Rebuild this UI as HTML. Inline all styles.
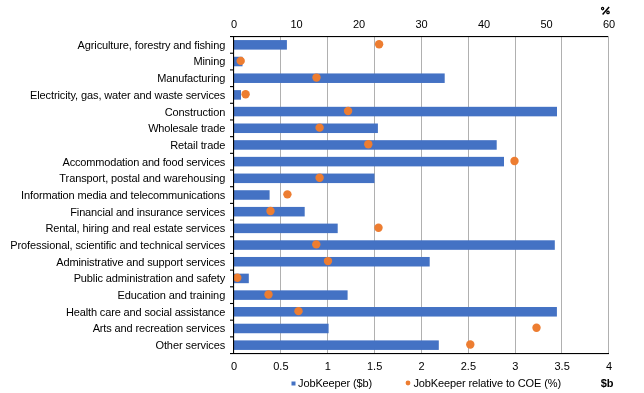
<!DOCTYPE html>
<html><head><meta charset="utf-8"><style>
html,body{margin:0;padding:0;background:#fff;width:644px;height:393px;overflow:hidden}
svg{display:block;will-change:transform}
text{font-family:"Liberation Sans",sans-serif;font-size:11px;letter-spacing:-0.12px;fill:#000}
text.n{letter-spacing:0}
</style></head><body>
<svg width="644" height="393" viewBox="0 0 644 393">
<rect width="644" height="393" fill="#fff"/>
<rect x="280" y="36" width="1" height="317.5" fill="#B0B0B0"/>
<rect x="327" y="36" width="1" height="317.5" fill="#B0B0B0"/>
<rect x="374" y="36" width="1" height="317.5" fill="#B0B0B0"/>
<rect x="421" y="36" width="1" height="317.5" fill="#B0B0B0"/>
<rect x="468" y="36" width="1" height="317.5" fill="#B0B0B0"/>
<rect x="515" y="36" width="1" height="317.5" fill="#B0B0B0"/>
<rect x="561" y="36" width="1" height="317.5" fill="#B0B0B0"/>
<rect x="608" y="36" width="1" height="317.5" fill="#B0B0B0"/>
<rect x="234" y="40.08" width="52.90" height="9.53" fill="#4472C4"/>
<rect x="234" y="56.76" width="8.50" height="9.53" fill="#4472C4"/>
<rect x="234" y="73.44" width="210.70" height="9.53" fill="#4472C4"/>
<rect x="234" y="90.13" width="7.00" height="9.53" fill="#4472C4"/>
<rect x="234" y="106.81" width="323.00" height="9.53" fill="#4472C4"/>
<rect x="234" y="123.50" width="143.90" height="9.53" fill="#4472C4"/>
<rect x="234" y="140.18" width="262.70" height="9.53" fill="#4472C4"/>
<rect x="234" y="156.86" width="270.00" height="9.53" fill="#4472C4"/>
<rect x="234" y="173.55" width="140.50" height="9.53" fill="#4472C4"/>
<rect x="234" y="190.23" width="35.60" height="9.53" fill="#4472C4"/>
<rect x="234" y="206.92" width="70.70" height="9.53" fill="#4472C4"/>
<rect x="234" y="223.60" width="103.70" height="9.53" fill="#4472C4"/>
<rect x="234" y="240.29" width="320.80" height="9.53" fill="#4472C4"/>
<rect x="234" y="256.97" width="195.70" height="9.53" fill="#4472C4"/>
<rect x="234" y="273.65" width="14.80" height="9.53" fill="#4472C4"/>
<rect x="234" y="290.34" width="113.60" height="9.53" fill="#4472C4"/>
<rect x="234" y="307.02" width="322.90" height="9.53" fill="#4472C4"/>
<rect x="234" y="323.71" width="94.60" height="9.53" fill="#4472C4"/>
<rect x="234" y="340.39" width="204.80" height="9.53" fill="#4472C4"/>
<circle cx="379.1" cy="44.22" r="4.2" fill="#ED7D31"/>
<circle cx="240.7" cy="60.90" r="4.2" fill="#ED7D31"/>
<circle cx="316.5" cy="77.58" r="4.2" fill="#ED7D31"/>
<circle cx="245.6" cy="94.27" r="4.2" fill="#ED7D31"/>
<circle cx="348.1" cy="110.95" r="4.2" fill="#ED7D31"/>
<circle cx="319.6" cy="127.63" r="4.2" fill="#ED7D31"/>
<circle cx="368.3" cy="144.31" r="4.2" fill="#ED7D31"/>
<circle cx="514.5" cy="160.99" r="4.2" fill="#ED7D31"/>
<circle cx="319.6" cy="177.68" r="4.2" fill="#ED7D31"/>
<circle cx="287.4" cy="194.36" r="4.2" fill="#ED7D31"/>
<circle cx="270.5" cy="211.04" r="4.2" fill="#ED7D31"/>
<circle cx="378.5" cy="227.72" r="4.2" fill="#ED7D31"/>
<circle cx="316.3" cy="244.40" r="4.2" fill="#ED7D31"/>
<circle cx="328" cy="261.09" r="4.2" fill="#ED7D31"/>
<circle cx="237.3" cy="277.77" r="4.2" fill="#ED7D31"/>
<circle cx="268.5" cy="294.45" r="4.2" fill="#ED7D31"/>
<circle cx="298.5" cy="311.13" r="4.2" fill="#ED7D31"/>
<circle cx="536.5" cy="327.81" r="4.2" fill="#ED7D31"/>
<circle cx="470.3" cy="344.50" r="4.2" fill="#ED7D31"/>
<rect x="230" y="36" width="378" height="1.1" fill="#000"/>
<rect x="230" y="353" width="379" height="1.1" fill="#000"/>
<rect x="233" y="36" width="1.1" height="318" fill="#000"/>
<rect x="230" y="52.68" width="4" height="1.1" fill="#000"/>
<rect x="230" y="69.37" width="4" height="1.1" fill="#000"/>
<rect x="230" y="86.05" width="4" height="1.1" fill="#000"/>
<rect x="230" y="102.74" width="4" height="1.1" fill="#000"/>
<rect x="230" y="119.42" width="4" height="1.1" fill="#000"/>
<rect x="230" y="136.11" width="4" height="1.1" fill="#000"/>
<rect x="230" y="152.79" width="4" height="1.1" fill="#000"/>
<rect x="230" y="169.47" width="4" height="1.1" fill="#000"/>
<rect x="230" y="186.16" width="4" height="1.1" fill="#000"/>
<rect x="230" y="202.84" width="4" height="1.1" fill="#000"/>
<rect x="230" y="219.53" width="4" height="1.1" fill="#000"/>
<rect x="230" y="236.21" width="4" height="1.1" fill="#000"/>
<rect x="230" y="252.89" width="4" height="1.1" fill="#000"/>
<rect x="230" y="269.58" width="4" height="1.1" fill="#000"/>
<rect x="230" y="286.26" width="4" height="1.1" fill="#000"/>
<rect x="230" y="302.95" width="4" height="1.1" fill="#000"/>
<rect x="230" y="319.63" width="4" height="1.1" fill="#000"/>
<rect x="230" y="336.32" width="4" height="1.1" fill="#000"/>
<text x="225.2" y="48.79" text-anchor="end" style="letter-spacing:-0.123px">Agriculture, forestry and fishing</text>
<text x="225.2" y="65.48" text-anchor="end" style="letter-spacing:-0.100px">Mining</text>
<text x="225.2" y="82.16" text-anchor="end" style="letter-spacing:-0.128px">Manufacturing</text>
<text x="225.2" y="98.84" text-anchor="end" style="letter-spacing:-0.108px">Electricity, gas, water and waste services</text>
<text x="225.2" y="115.53" text-anchor="end" style="letter-spacing:-0.111px">Construction</text>
<text x="225.2" y="132.21" text-anchor="end" style="letter-spacing:-0.163px">Wholesale trade</text>
<text x="225.2" y="148.90" text-anchor="end" style="letter-spacing:-0.111px">Retail trade</text>
<text x="225.2" y="165.58" text-anchor="end" style="letter-spacing:-0.177px">Accommodation and food services</text>
<text x="225.2" y="182.27" text-anchor="end" style="letter-spacing:-0.095px">Transport, postal and warehousing</text>
<text x="225.2" y="198.95" text-anchor="end" style="letter-spacing:-0.141px">Information media and telecommunications</text>
<text x="225.2" y="215.63" text-anchor="end" style="letter-spacing:-0.146px">Financial and insurance services</text>
<text x="225.2" y="232.32" text-anchor="end" style="letter-spacing:-0.112px">Rental, hiring and real estate services</text>
<text x="225.2" y="249.00" text-anchor="end" style="letter-spacing:-0.111px">Professional, scientific and technical services</text>
<text x="225.2" y="265.69" text-anchor="end" style="letter-spacing:-0.135px">Administrative and support services</text>
<text x="225.2" y="282.37" text-anchor="end" style="letter-spacing:-0.117px">Public administration and safety</text>
<text x="225.2" y="299.06" text-anchor="end" style="letter-spacing:-0.082px">Education and training</text>
<text x="225.2" y="315.74" text-anchor="end" style="letter-spacing:-0.142px">Health care and social assistance</text>
<text x="225.2" y="332.42" text-anchor="end" style="letter-spacing:-0.135px">Arts and recreation services</text>
<text x="225.2" y="349.11" text-anchor="end" style="letter-spacing:-0.082px">Other services</text>
<text x="234.00" y="27.8" text-anchor="middle" class="n">0</text>
<text x="296.50" y="27.8" text-anchor="middle" class="n">10</text>
<text x="359.00" y="27.8" text-anchor="middle" class="n">20</text>
<text x="421.50" y="27.8" text-anchor="middle" class="n">30</text>
<text x="484.00" y="27.8" text-anchor="middle" class="n">40</text>
<text x="546.50" y="27.8" text-anchor="middle" class="n">50</text>
<text x="609.00" y="27.8" text-anchor="middle" class="n">60</text>
<text x="234.00" y="370" text-anchor="middle" class="n">0</text>
<text x="280.88" y="370" text-anchor="middle" class="n">0.5</text>
<text x="327.75" y="370" text-anchor="middle" class="n">1</text>
<text x="374.62" y="370" text-anchor="middle" class="n">1.5</text>
<text x="421.50" y="370" text-anchor="middle" class="n">2</text>
<text x="468.38" y="370" text-anchor="middle" class="n">2.5</text>
<text x="515.25" y="370" text-anchor="middle" class="n">3</text>
<text x="562.12" y="370" text-anchor="middle" class="n">3.5</text>
<text x="609.00" y="370" text-anchor="middle" class="n">4</text>
<g fill="none" stroke="#000" stroke-width="1.25"><ellipse cx="602.6" cy="8.6" rx="1.1" ry="1.2"/><ellipse cx="608.0" cy="12.4" rx="1.2" ry="1.25"/><path d="M602.6 14.4 L609.1 6.9" stroke-width="1.5"/></g>
<text x="607" y="387" text-anchor="middle" font-weight="bold">$b</text>
<rect x="291.5" y="381.5" width="4" height="4" fill="#4472C4"/>
<text x="298" y="387">JobKeeper ($b)</text>
<circle cx="408" cy="383" r="2.4" fill="#ED7D31"/>
<text x="413.4" y="387">JobKeeper relative to COE (%)</text>
</svg>
</body></html>
